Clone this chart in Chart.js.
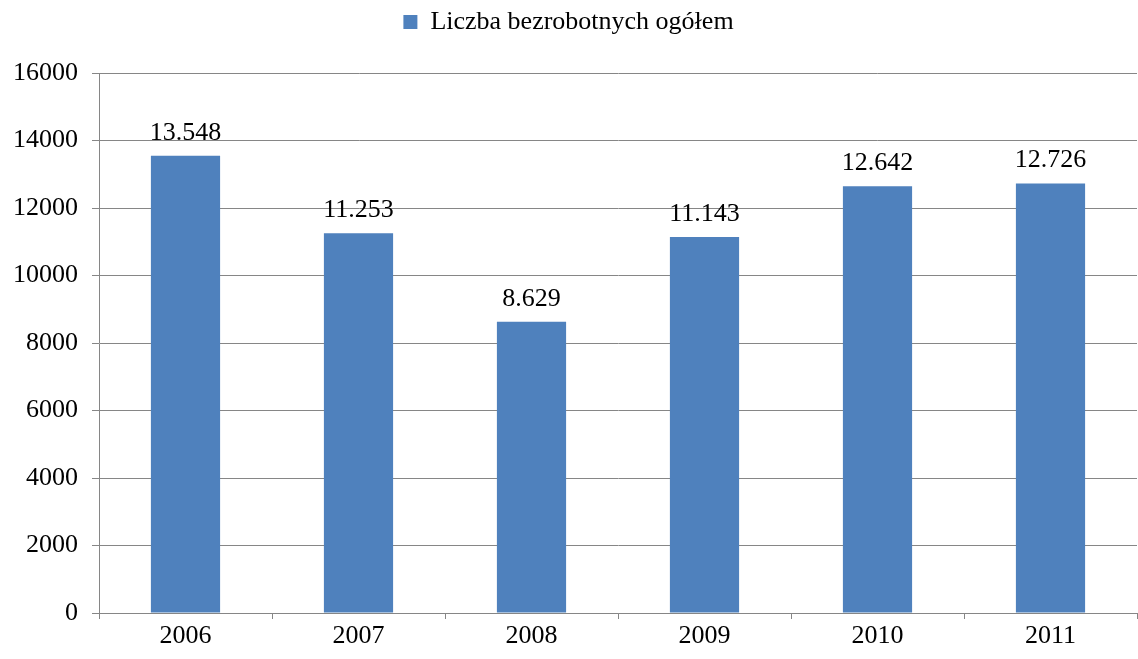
<!DOCTYPE html>
<html>
<head>
<meta charset="utf-8">
<script src="https://cdn.jsdelivr.net/npm/chart.js@4"></script>
<style>
  html, body { margin: 0; padding: 0; background: #fff; }
  #wrap { width: 1138px; height: 659px; }
</style>
</head>
<body>
<div id="wrap"><canvas id="chart"></canvas></div>
<script>
/* --------------- Data --------------------- */
const years = ["2006", "2007", "2008", "2009", "2010", "2011"];
const unemployed = [13548, 11253, 8629, 11143, 12642, 12726];
const seriesName = "Liczba bezrobotnych ogółem";

const barColor = "#4F81BD";
const gridColor = "#868686";
const serif = "'Liberation Serif', 'Times New Roman', serif";
const fontSize = 26;

// 13548 -> "13.548"
const formatPl = (v) => String(v).replace(/\B(?=(\d{3})+(?!\d))/g, ".");

/* --------------- Value labels above bars --------------------- */
const valueLabels = {
  id: "valueLabels",
  afterDatasetsDraw(chart) {
    const ctx = chart.ctx;
    const meta = chart.getDatasetMeta(0);
    ctx.save();
    ctx.font = fontSize + "px " + serif;
    ctx.fillStyle = "#000";
    ctx.textAlign = "center";
    ctx.textBaseline = "bottom";
    meta.data.forEach((bar, i) => {
      ctx.fillText(formatPl(chart.data.datasets[0].data[i]), bar.x, bar.y - 10);
    });
    ctx.restore();
  },
};

/* --------------- Legend sits high, with a gap below it --------------------- */
const legendGap = {
  id: "legendGap",
  afterInit(chart) {
    const legend = chart.legend;
    const fit = legend.fit;
    legend.fit = function () {
      fit.call(this);
      this.height = 70;
    };
  },
};

new Chart(document.getElementById("chart"), {
  type: "bar",
  plugins: [valueLabels, legendGap],
  data: {
    labels: years,
    datasets: [
      {
        label: seriesName,
        data: unemployed,
        backgroundColor: barColor,
        categoryPercentage: 1,
        barPercentage: 0.4,
      },
    ],
  },
  options: {
    responsive: true,
    maintainAspectRatio: false,
    animation: false,
    layout: { padding: { top: 3, right: 1, left: 0, bottom: 0 } },
    plugins: {
      tooltip: { enabled: false },
      legend: {
        position: "top",
        labels: {
          color: "#000",
          font: { family: serif, size: fontSize },
          boxWidth: 14,
          boxHeight: 14,
          padding: 6,
        },
      },
    },
    scales: {
      x: {
        grid: {
          offset: true,
          drawOnChartArea: false,
          drawTicks: true,
          tickLength: 6,
          color: gridColor,
        },
        border: { color: gridColor },
        ticks: { color: "#000", font: { family: serif, size: fontSize }, padding: 2 },
        afterFit: (s) => { s.height = 46; },
      },
      y: {
        min: 0,
        max: 16000,
        ticks: {
          stepSize: 2000,
          color: "#000",
          font: { family: serif, size: fontSize },
          padding: 14,
          callback: (v) => String(v),
        },
        grid: { color: gridColor, tickLength: 7 },
        border: { color: gridColor },
        afterFit: (s) => { s.width = 99; },
      },
    },
  },
});
</script>
</body>
</html>
